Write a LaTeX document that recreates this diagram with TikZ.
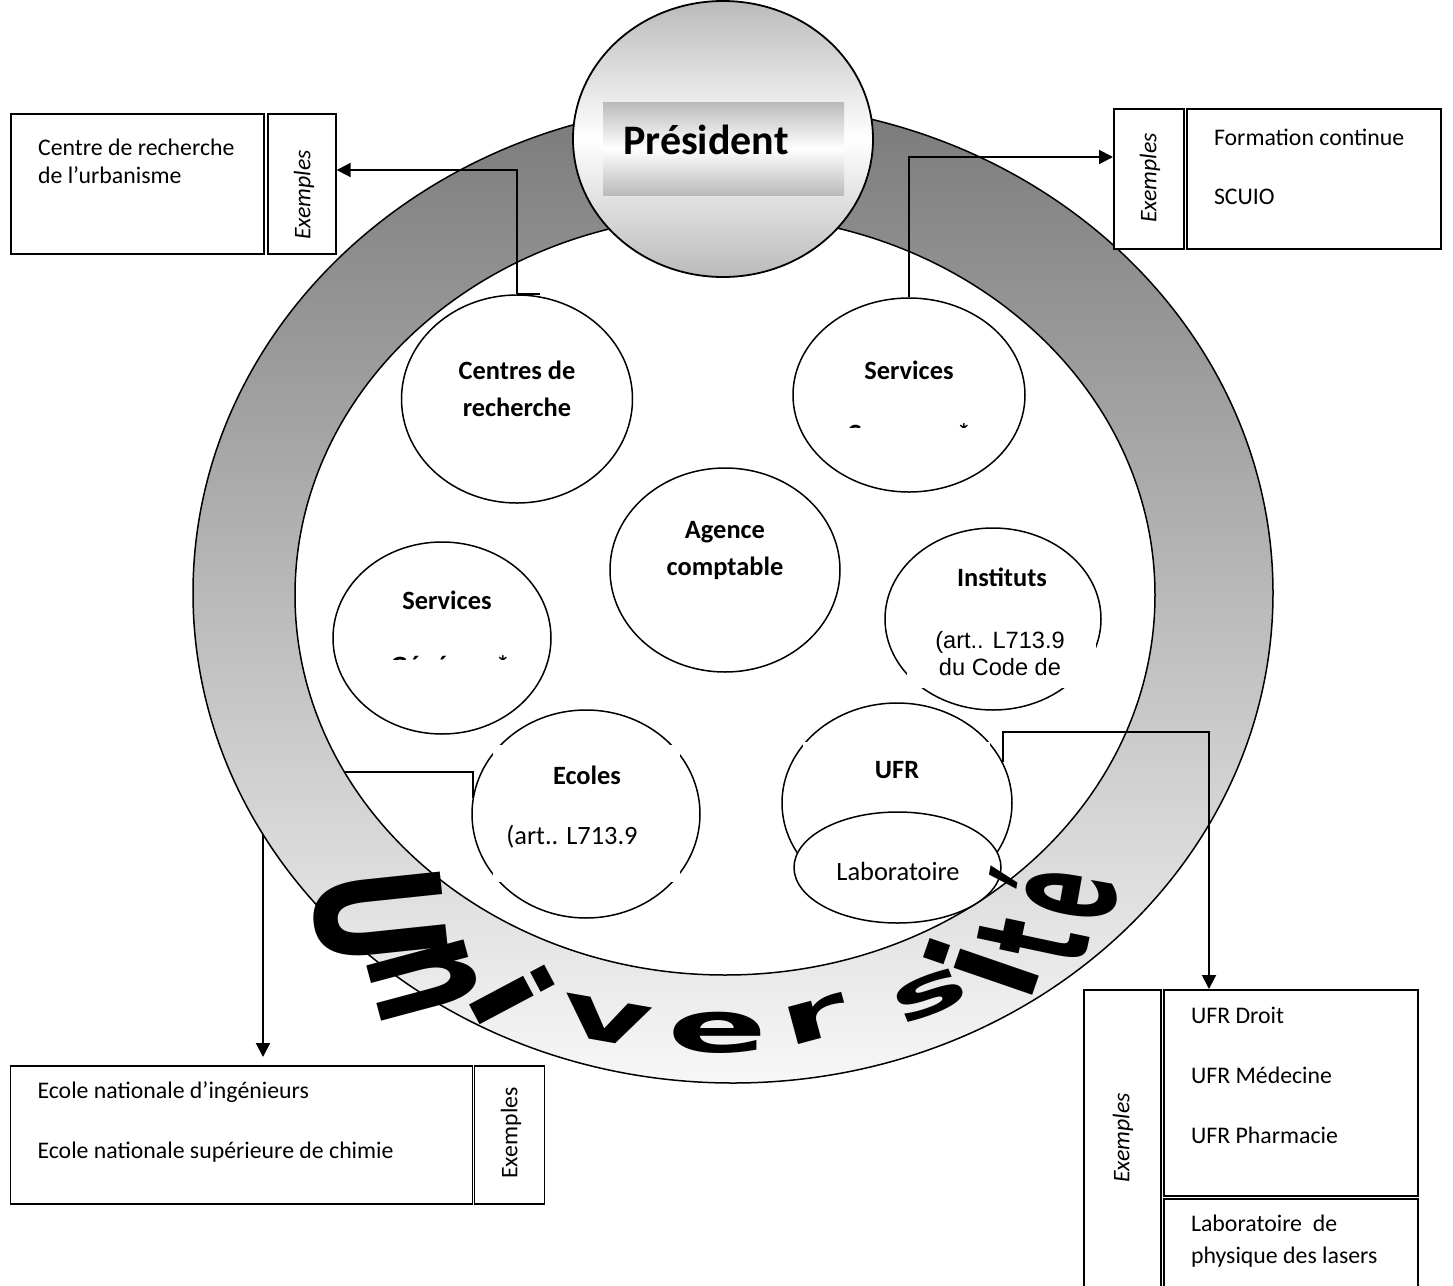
\documentclass[tikz,border=0pt]{standalone}
\usepackage{fontspec}
\usepackage{graphicx}
\setmainfont{Carlito}
\newfontfamily\arialf{Liberation Sans}
\newfontfamily\unifont{DejaVu Sans}
\newcommand\unil[1]{{\unifont\bfseries\fontsize{40}{40}\selectfont #1}}
\usetikzlibrary{shapes.geometric,arrows.meta,calc}
\newcommand\ringouter{(733,-593) ellipse [x radius=540, y radius=490]}
\newcommand\ringinner{(725,-595) ellipse [x radius=430, y radius=380]}
\begin{document}
\begin{tikzpicture}[x=0.5pt,y=0.5pt,
  bub/.style={ellipse,draw,line width=0.75pt,fill=white,inner sep=0pt},
  lbl/.style={align=center,font=\fontsize{13.2}{18.5}\selectfont\bfseries},
  lblr/.style={align=center,font=\fontsize{13.2}{16}\selectfont},
  t11/.style={font=\fontsize{11.9}{14}\selectfont},
  box/.style={draw,line width=0.85pt,fill=white,inner sep=0pt,anchor=north west},
  con/.style={line width=1pt},
  arr/.style={line width=1pt,-{Triangle[length=7pt,width=7pt]}},
  ringline/.style={line width=0.75pt},
  ltr/.style={inner sep=0pt,outer sep=0pt}
]
\useasboundingbox (0,0) rectangle (1453,-1286);
\fill[white] (0,0) rectangle (1453,-1286);

% parenthesis fragments cut by the top edge
\node[t11,anchor=base] (parL) at (161,4) {(};
\node[t11,anchor=base] (parR) at (545,4) {)};

% ---------- ring ----------
\shade[even odd rule, top color=black!52, bottom color=black!3] \ringouter \ringinner;
\draw[ringline] \ringouter;
\draw[ringline] \ringinner;

% ---------- President ----------
\node[ellipse,draw,line width=0.9pt,inner sep=0pt,top color=black!27,bottom color=black!27,middle color=white,
      minimum width=150pt,minimum height=138pt] (pres) at (723,-139) {};
\node[rectangle,inner sep=0pt,top color=black!27,bottom color=black!27,middle color=white,
      minimum width=120.5pt,minimum height=46.5pt] (presbox) at (723.5,-148.5) {};
\node[font=\fontsize{21}{24}\selectfont\bfseries] (prestxt) at (706,-140) {Président};

% ---------- bubbles ----------
\node[bub,minimum width=115.5pt,minimum height=104pt] (cr) at (517,-399) {};
\node[lbl] (crT) at (517,-388.5) {Centres de\\recherche};

\node[bub,minimum width=116pt,minimum height=97pt] (svr) at (909,-395) {};
\node[lbl] (svrT) at (909,-370) {Services};
\begin{scope}
  \clip (830,-420) rectangle (990,-427.5);
  \node[lbl,anchor=base] (svrF) at (909,-442) {Communs*};
\end{scope}

\node[bub,minimum width=115pt,minimum height=102pt] (ag) at (725,-570) {};
\node[lbl] (agT) at (725,-551) {Agence\\comptable};

\node[bub,minimum width=109pt,minimum height=96pt] (svl) at (442,-638) {};
\node[lbl] (svlT) at (447,-600) {Services};
\begin{scope}
  \clip (370,-650) rectangle (530,-659);
  \node[lbl,anchor=base] (svlF) at (450,-674) {Généraux*};
\end{scope}

\node[bub,minimum width=108pt,minimum height=91pt] (inst) at (993,-619) {};
\fill[white] (907,-627) rectangle (1096,-688);
\node[lbl] (instT) at (1002,-577) {Instituts};
\node[align=center,font=\arialf\fontsize{11.8}{13.5}\selectfont] (instA) at (1000,-653.5) {(art.. L713.9\\du Code de};

\node[bub,minimum width=114pt,minimum height=104pt] (ec) at (586,-814) {};
\fill[white] (493,-745) rectangle (680,-882);
\node[lbl] (ecT) at (587,-775) {Ecoles};
\node[lblr] (ecA) at (572,-837) {(art.. L713.9};

\node[bub,minimum width=115pt,minimum height=100pt] (ufr) at (897,-803) {};
\fill[white] (803,-742) rectangle (990,-850);
\node[lbl] (ufrT) at (897,-770) {UFR};
\node[bub,minimum width=103.5pt,minimum height=55.5pt] (lab) at (897.5,-867.5) {};
\node[lblr] (labT) at (898,-871) {Laboratoire};

% ---------- boxes ----------
\node[box,minimum width=126.5pt,minimum height=70pt] (tlm) at (10,-113) {};
\node[box,minimum width=34pt,minimum height=70pt] (tlex) at (267,-113) {};
\node[t11,anchor=west] (tl1) at (31,-147) {Centre de recherche};
\node[t11,anchor=west] (tl2) at (31,-175) {de l’urbanisme};
\node[t11,rotate=90] (tlexT) at (304,-195) {\itshape Exemples};

\node[box,minimum width=35pt,minimum height=70pt] (trex) at (1113,-108) {};
\node[box,minimum width=127pt,minimum height=70pt] (trm) at (1186,-108) {};
\node[t11,anchor=west] (tr1) at (1207,-137) {Formation continue};
\node[t11,anchor=west] (tr2) at (1207,-197) {SCUIO};
\node[t11,rotate=90] (trexT) at (1150,-178) {\itshape Exemples};

\node[box,minimum width=231pt,minimum height=69pt] (blm) at (9.5,-1065) {};
\node[box,minimum width=35pt,minimum height=69pt] (blex) at (473.5,-1065) {};
\node[t11,anchor=west] (bl1) at (30.5,-1092) {Ecole nationale d’ingénieurs};
\node[t11,anchor=west] (bl2) at (30.5,-1152) {Ecole nationale supérieure de chimie};
\node[t11,rotate=90] (blexT) at (511,-1133) {Exemples};

\node[box,minimum width=38.5pt,minimum height=160pt] (brex) at (1083,-989) {};
\node[box,minimum width=127pt,minimum height=103pt] (brm) at (1163,-989) {};
\node[box,minimum width=127pt,minimum height=55pt] (brl) at (1163,-1198) {};
\node[t11,anchor=west] (br1) at (1184,-1015) {UFR Droit};
\node[t11,anchor=west] (br2) at (1184,-1075) {UFR Médecine};
\node[t11,anchor=west] (br3) at (1184,-1135) {UFR Pharmacie};
\node[t11,anchor=west] (br4) at (1184,-1223) {Laboratoire\ \ de};
\node[t11,anchor=west] (br5) at (1184,-1257) {physique des lasers};
\node[t11,rotate=90] (brexT) at (1123,-1138) {\itshape Exemples};

% ---------- connectors ----------
\coordinate (yA) at (0,-170);
\draw[arr] (cr.north) |- (tlex.east |- yA);
\draw[con] (cr.north) -- ++(23,0);
\coordinate (yB) at (0,-157);
\draw[arr] (svr.north) |- (trex.west |- yB);
\coordinate (k3) at (263,-772);
\begin{scope}[even odd rule]
  \clip (0,0) rectangle (1453,-1286) \ringouter \ringinner;
  \draw[arr] (ec.172) |- (k3) -- ($(k3 |- blm.north)+(0,8)$);
\end{scope}
\coordinate (k4) at (1209,-732);
\draw[arr] (ufr.21) |- (k4) -- (k4 |- brm.north);

% ---------- Université (warped lettering) ----------
\node[ltr,rotate=-84] (uU)  at (379,-916) {\scalebox{1.5}[2.2]{\unil{U}}};
\node[ltr,rotate=-75] (uN)  at (424,-980) {\scalebox{1.3}[2.3]{\unil{n}}};
\node[ltr,rotate=-62] (uI1) at (512,-995) {\scalebox{1.6}[1.4]{\unil{i}}};
\node[ltr,rotate=-10] (uV)  at (606,-1021) {\scalebox{1.75}[0.95]{\unil{v}}};
\node[ltr,rotate=0]   (uE)  at (718,-1033) {\scalebox{1.85}[0.9]{\unil{e}}};
\node[ltr,rotate=15]  (uR)  at (815,-1020) {\scalebox{1.7}[0.88]{\unil{r}}};
\node[ltr,rotate=22]  (uS)  at (930,-995) {\scalebox{1.6}[0.84]{\unil{s}}};
\node[ltr,rotate=71]  (uI2) at (981,-967) {\scalebox{1.45}[1.9]{\unil{i}}};
\node[ltr,rotate=78]  (uT)  at (1033,-940) {\scalebox{0.9}[1.96]{\unil{t}}};
\node[ltr,rotate=80]  (uEa) at (1053,-892) {\scalebox{0.85}[2.0]{\unil{é}}};
\end{tikzpicture}
\end{document}
